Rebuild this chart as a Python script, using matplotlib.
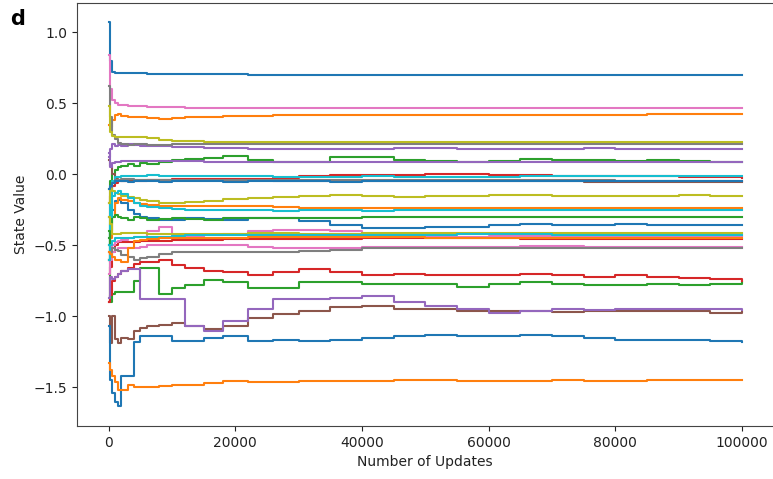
import matplotlib
matplotlib.use("Agg")
import matplotlib.pyplot as plt

# Number of updates (shared x grid)
updates = [0, 200, 500, 1000, 1500, 2000, 3000, 4000, 5000, 6000, 8000, 10000,
           12000, 15000, 18000, 22000, 26000, 30000, 35000, 40000, 45000, 50000,
           55000, 60000, 65000, 70000, 75000, 80000, 85000, 90000, 95000, 100000]

# State value series
blue_top = [1.07, 0.80, 0.72, 0.715, 0.715, 0.713, 0.712, 0.71, 0.71, 0.708, 0.707, 0.705,
            0.704, 0.703, 0.703, 0.702, 0.702, 0.701, 0.701, 0.701, 0.70, 0.70,
            0.70, 0.70, 0.70, 0.70, 0.70, 0.70, 0.70, 0.70, 0.70, 0.70]
pink_top = [0.84, 0.60, 0.52, 0.50, 0.49, 0.485, 0.48, 0.478, 0.48, 0.475, 0.473, 0.472,
            0.47, 0.47, 0.47, 0.47, 0.47, 0.47, 0.47, 0.47, 0.469, 0.469,
            0.468, 0.468, 0.468, 0.468, 0.468, 0.468, 0.467, 0.467, 0.467, 0.467]
orange_top = [0.35, 0.33, 0.38, 0.42, 0.425, 0.41, 0.40, 0.405, 0.40, 0.395, 0.39, 0.395,
              0.40, 0.405, 0.41, 0.412, 0.415, 0.418, 0.42, 0.42, 0.42, 0.418,
              0.42, 0.42, 0.42, 0.42, 0.42, 0.42, 0.422, 0.423, 0.423, 0.423]
olive_top = [0.48, 0.30, 0.27, 0.26, 0.265, 0.26, 0.26, 0.265, 0.262, 0.255, 0.245, 0.235,
             0.232, 0.23, 0.23, 0.23, 0.23, 0.23, 0.23, 0.23, 0.23, 0.23,
             0.23, 0.23, 0.23, 0.229, 0.229, 0.229, 0.228, 0.228, 0.228, 0.228]
gray_top = [0.62, 0.40, 0.28, 0.25, 0.22, 0.21, 0.205, 0.21, 0.21, 0.205, 0.205, 0.21,
            0.21, 0.212, 0.213, 0.214, 0.215, 0.215, 0.215, 0.215, 0.215, 0.215,
            0.215, 0.215, 0.215, 0.215, 0.215, 0.215, 0.215, 0.215, 0.215, 0.215]
purple_upper = [0.12, 0.18, 0.21, 0.20, 0.205, 0.20, 0.21, 0.205, 0.20, 0.20, 0.20, 0.195,
                0.19, 0.185, 0.185, 0.18, 0.18, 0.18, 0.18, 0.18, 0.185, 0.185,
                0.18, 0.18, 0.18, 0.18, 0.185, 0.18, 0.18, 0.18, 0.18, 0.18]
purple_lower = [0.15, 0.05, 0.08, 0.09, 0.09, 0.095, 0.095, 0.095, 0.095, 0.095, 0.095, 0.095,
                0.095, 0.09, 0.09, 0.09, 0.09, 0.09, 0.09, 0.09, 0.09, 0.09,
                0.09, 0.09, 0.09, 0.09, 0.09, 0.09, 0.09, 0.09, 0.09, 0.09]
green_wavy = [-0.10, -0.05, 0.0, 0.03, 0.05, 0.06, 0.07, 0.06, 0.08, 0.07, 0.09, 0.10,
              0.11, 0.115, 0.13, 0.10, 0.085, 0.09, 0.125, 0.12, 0.10, 0.095,
              0.09, 0.095, 0.105, 0.10, 0.10, 0.095, 0.10, 0.095, 0.09, 0.09]
cyan_cluster = [-0.55, -0.20, -0.05, -0.02, -0.02, -0.015, -0.015, -0.01, -0.01, -0.005, -0.01, -0.01,
                -0.01, -0.01, -0.015, -0.015, -0.02, -0.02, -0.02, -0.015, -0.02, -0.02,
                -0.02, -0.02, -0.015, -0.015, -0.015, -0.015, -0.015, -0.015, -0.015, -0.015]
red_cluster = [-0.30, -0.15, -0.08, -0.06, -0.05, -0.05, -0.05, -0.05, -0.045, -0.04, -0.04, -0.035,
               -0.035, -0.035, -0.03, -0.03, -0.025, -0.01, -0.005, -0.005, -0.005, 0.0,
               0.0, -0.005, -0.005, -0.01, -0.01, -0.015, -0.015, -0.02, -0.02, -0.025]
brown_cluster = [0.10, 0.06, 0.0, -0.03, -0.04, -0.045, -0.045, -0.04, -0.04, -0.04, -0.04, -0.04,
                 -0.04, -0.04, -0.04, -0.04, -0.045, -0.045, -0.045, -0.045, -0.05, -0.05,
                 -0.05, -0.05, -0.05, -0.05, -0.055, -0.055, -0.055, -0.055, -0.057, -0.057]
gray_cluster = [-0.20, -0.10, -0.06, -0.04, -0.04, -0.035, -0.035, -0.04, -0.04, -0.04, -0.04, -0.04,
                -0.04, -0.04, -0.04, -0.04, -0.04, -0.04, -0.04, -0.04, -0.04, -0.04,
                -0.04, -0.04, -0.04, -0.04, -0.04, -0.045, -0.045, -0.045, -0.045, -0.045]
blue_cluster = [-0.10, -0.08, -0.06, -0.05, -0.05, -0.05, -0.055, -0.05, -0.05, -0.05, -0.055, -0.05,
                -0.05, -0.05, -0.055, -0.05, -0.05, -0.05, -0.055, -0.05, -0.05, -0.05,
                -0.05, -0.05, -0.05, -0.05, -0.05, -0.05, -0.05, -0.05, -0.05, -0.05]
olive_mid = [-0.20, -0.10, -0.12, -0.13, -0.14, -0.15, -0.16, -0.17, -0.18, -0.19, -0.20, -0.20,
             -0.195, -0.19, -0.175, -0.165, -0.16, -0.15, -0.145, -0.15, -0.16, -0.15,
             -0.15, -0.145, -0.145, -0.155, -0.15, -0.15, -0.15, -0.145, -0.155, -0.15]
orange_mid = [-0.60, -0.45, -0.30, -0.20, -0.17, -0.18, -0.19, -0.20, -0.21, -0.215, -0.22, -0.225,
              -0.225, -0.225, -0.225, -0.225, -0.23, -0.235, -0.235, -0.24, -0.24, -0.24,
              -0.24, -0.24, -0.24, -0.24, -0.24, -0.24, -0.24, -0.24, -0.24, -0.24]
cyan_mid = [-0.50, -0.30, -0.15, -0.13, -0.12, -0.14, -0.17, -0.20, -0.22, -0.23, -0.24, -0.245,
            -0.25, -0.25, -0.25, -0.25, -0.255, -0.25, -0.25, -0.255, -0.25, -0.25,
            -0.25, -0.25, -0.25, -0.25, -0.25, -0.25, -0.25, -0.25, -0.25, -0.25]
green_mid = [-0.45, -0.35, -0.30, -0.29, -0.30, -0.31, -0.32, -0.30, -0.31, -0.32, -0.315, -0.31,
             -0.315, -0.32, -0.31, -0.305, -0.305, -0.305, -0.305, -0.30, -0.30, -0.30,
             -0.30, -0.30, -0.30, -0.30, -0.30, -0.30, -0.30, -0.30, -0.30, -0.30]
blue_mid = [-0.50, -0.40, -0.25, -0.19, -0.18, -0.20, -0.25, -0.28, -0.30, -0.31, -0.32, -0.32,
            -0.31, -0.315, -0.32, -0.31, -0.31, -0.33, -0.36, -0.38, -0.375, -0.37,
            -0.37, -0.355, -0.35, -0.355, -0.355, -0.35, -0.355, -0.36, -0.36, -0.36]
olive_low = [-0.30, -0.35, -0.42, -0.42, -0.42, -0.415, -0.415, -0.415, -0.415, -0.42, -0.42, -0.42,
             -0.42, -0.42, -0.42, -0.415, -0.415, -0.42, -0.42, -0.41, -0.41, -0.41,
             -0.41, -0.41, -0.41, -0.41, -0.41, -0.41, -0.41, -0.41, -0.41, -0.41]
cyan_low = [-0.60, -0.50, -0.47, -0.45, -0.445, -0.445, -0.445, -0.44, -0.44, -0.44, -0.44, -0.435,
            -0.43, -0.43, -0.43, -0.425, -0.425, -0.425, -0.425, -0.425, -0.425, -0.425,
            -0.42, -0.42, -0.42, -0.425, -0.425, -0.425, -0.425, -0.425, -0.425, -0.425]
pink_a = [-0.60, -0.55, -0.50, -0.48, -0.47, -0.46, -0.45, -0.44, -0.44, -0.40, -0.37, -0.44,
          -0.44, -0.43, -0.42, -0.40, -0.39, -0.395, -0.40, -0.44, -0.44, -0.44,
          -0.44, -0.435, -0.435, -0.435, -0.435, -0.435, -0.435, -0.435, -0.435, -0.435]
orange_lowmid = [-0.55, -0.56, -0.58, -0.60, -0.60, -0.62, -0.52, -0.47, -0.46, -0.455, -0.45, -0.45,
                 -0.45, -0.45, -0.445, -0.44, -0.44, -0.44, -0.44, -0.44, -0.44, -0.445,
                 -0.445, -0.445, -0.445, -0.445, -0.445, -0.445, -0.445, -0.445, -0.445, -0.445]
red_mid = [-0.90, -0.65, -0.55, -0.50, -0.48, -0.48, -0.475, -0.475, -0.47, -0.47, -0.47, -0.465,
           -0.46, -0.46, -0.455, -0.455, -0.455, -0.455, -0.455, -0.45, -0.45, -0.45,
           -0.45, -0.45, -0.455, -0.455, -0.455, -0.455, -0.455, -0.455, -0.455, -0.455]
pink_b = [-0.70, -0.60, -0.55, -0.53, -0.52, -0.52, -0.52, -0.52, -0.51, -0.50, -0.50, -0.495,
          -0.495, -0.495, -0.50, -0.51, -0.52, -0.52, -0.52, -0.515, -0.51, -0.51,
          -0.51, -0.51, -0.505, -0.505, -0.51, -0.51, -0.51, -0.51, -0.51, -0.51]
gray_low = [-0.60, -0.55, -0.52, -0.53, -0.54, -0.57, -0.58, -0.60, -0.59, -0.58, -0.56, -0.55,
            -0.55, -0.55, -0.55, -0.545, -0.545, -0.54, -0.53, -0.52, -0.52, -0.52,
            -0.52, -0.52, -0.52, -0.52, -0.52, -0.52, -0.52, -0.52, -0.52, -0.52]
red_low = [-0.90, -0.85, -0.75, -0.72, -0.70, -0.68, -0.66, -0.63, -0.62, -0.62, -0.60, -0.64,
           -0.66, -0.68, -0.69, -0.71, -0.69, -0.67, -0.69, -0.71, -0.705, -0.71,
           -0.71, -0.71, -0.70, -0.71, -0.72, -0.71, -0.72, -0.73, -0.74, -0.75]
green_low = [-0.40, -0.90, -0.84, -0.83, -0.83, -0.83, -0.83, -0.75, -0.66, -0.66, -0.84, -0.80,
             -0.78, -0.745, -0.76, -0.80, -0.80, -0.76, -0.76, -0.77, -0.77, -0.77,
             -0.79, -0.77, -0.755, -0.77, -0.78, -0.78, -0.775, -0.78, -0.77, -0.755]
purple_low = [-0.87, -0.72, -0.74, -0.72, -0.70, -0.68, -0.67, -0.67, -0.88, -0.88, -0.88, -0.88,
              -1.07, -1.10, -1.03, -0.95, -0.88, -0.875, -0.87, -0.86, -0.90, -0.93,
              -0.95, -0.975, -0.96, -0.95, -0.955, -0.95, -0.95, -0.945, -0.95, -0.955]
brown_low = [-1.00, -1.19, -1.00, -1.16, -1.19, -1.15, -1.16, -1.10, -1.08, -1.07, -1.06, -1.05,
             -1.07, -1.09, -1.07, -1.01, -0.98, -0.96, -0.935, -0.925, -0.945, -0.95,
             -0.96, -0.965, -0.965, -0.97, -0.965, -0.965, -0.965, -0.965, -0.975, -0.97]
blue_low = [-1.07, -1.45, -1.54, -1.60, -1.63, -1.42, -1.42, -1.18, -1.14, -1.14, -1.14, -1.175,
            -1.175, -1.15, -1.14, -1.175, -1.17, -1.175, -1.17, -1.15, -1.14, -1.13,
            -1.14, -1.14, -1.13, -1.14, -1.15, -1.17, -1.17, -1.17, -1.175, -1.18]
orange_low = [-1.33, -1.38, -1.42, -1.46, -1.52, -1.52, -1.48, -1.50, -1.50, -1.495, -1.49, -1.485,
              -1.48, -1.47, -1.455, -1.465, -1.46, -1.455, -1.455, -1.455, -1.45, -1.45,
              -1.455, -1.455, -1.455, -1.45, -1.455, -1.455, -1.45, -1.45, -1.45, -1.45]

series = [
    (blue_top, "C0"), (orange_top, "C1"), (green_wavy, "C2"), (red_cluster, "C3"),
    (purple_upper, "C4"), (brown_cluster, "C5"), (pink_top, "C6"), (gray_top, "C7"),
    (olive_top, "C8"), (cyan_cluster, "C9"),
    (blue_mid, "C0"), (orange_mid, "C1"), (green_mid, "C2"), (red_mid, "C3"),
    (purple_lower, "C4"), (brown_low, "C5"), (pink_a, "C6"), (gray_cluster, "C7"),
    (olive_mid, "C8"), (cyan_mid, "C9"),
    (blue_low, "C0"), (orange_low, "C1"), (green_low, "C2"), (red_low, "C3"),
    (purple_low, "C4"), (pink_b, "C6"), (gray_low, "C7"),
    (olive_low, "C8"), (cyan_low, "C9"), (orange_lowmid, "C1"), (blue_cluster, "C0"),
]

fig = plt.figure(figsize=(7.73, 4.79), dpi=100)
ax = fig.add_axes([77 / 773, 1 - 426 / 479, (773.5 - 77) / 773, (426 - 3) / 479])

for vals, col in series:
    ax.plot(updates, vals, color=col, lw=1.5, drawstyle="steps-post")

ax.set_xlim(-5000, 105000)
ax.set_ylim(-1.772, 1.206)
ax.set_xticks([0, 20000, 40000, 60000, 80000, 100000])
ax.set_yticks([-1.5, -1.0, -0.5, 0.0, 0.5, 1.0])
ax.tick_params(labelsize=10, colors="#222222")
for sp in ax.spines.values():
    sp.set_color("#444444")
ax.spines["right"].set_visible(False)
ax.set_xlabel("Number of Updates", fontsize=10, color="#222222")
ax.set_ylabel("State Value", fontsize=10, color="#222222")
fig.text(10 / 773, 1 - 19 / 479, "d", fontsize=15, fontweight="bold", va="center", ha="left")

fig.savefig("out.png", dpi=100)
